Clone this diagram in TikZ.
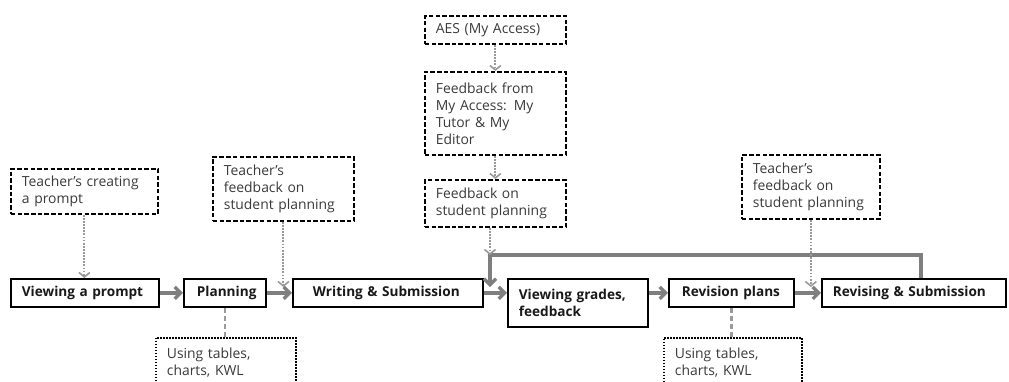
\documentclass[tikz,border=0pt]{standalone}
\usepackage{fontspec}
\setmainfont{Open Sans}
\usetikzlibrary{arrows.meta}
\definecolor{arrgray}{HTML}{7F7F7F}
\definecolor{lgray}{HTML}{9A9A9A}
\definecolor{txtgray}{HTML}{3A3A3A}
\tikzset{
  mainbox/.style={draw=black, line width=1.8pt, anchor=north west, inner ysep=0pt,
    align=left, font=\fontsize{13.6}{17}\selectfont\bfseries, text=black!90},
  dashbox/.style={draw=black, line width=1.8pt, dash pattern=on 4.5pt off 2.2pt, anchor=north west,
    inner ysep=0pt, inner xsep=11pt, align=left, font=\fontsize{13.9}{17}\selectfont, text=txtgray},
  dotbox/.style={draw=black, line width=1.8pt, dash pattern=on 1.5pt off 1.5pt, anchor=north west,
    inner ysep=0pt, inner xsep=11pt, align=left, font=\fontsize{13.9}{17}\selectfont, text=txtgray},
  flowarr/.style={draw=arrgray, line width=3.3pt, -{Straight Barb[length=6pt,width=12pt]}},
  dotarr/.style={draw=lgray, line width=2pt, dash pattern=on 1.8pt off 1.3pt,
    -{Straight Barb[length=4.5pt,width=11pt,line width=1.6pt]}},
  dashlink/.style={draw=lgray, line width=2.3pt, dash pattern=on 5pt off 3pt}
}
\begin{document}
\begin{tikzpicture}[x=1pt,y=-1pt]
\useasboundingbox (0,0) rectangle (1009,381);
\clip (0,0) rectangle (1009,381);
% main boxes
\node[mainbox, inner xsep=11pt, text width=126pt, minimum height=28pt] (vp) at (10,278) {Viewing~a~prompt};
\node[mainbox, inner xsep=13pt, text width=56pt, minimum height=28pt] (pl) at (183,278) {Planning};
\node[mainbox, inner xsep=20pt, text width=150pt, minimum height=28pt] (ws) at (292,278) {Writing~\&~Submission};
\node[mainbox, inner xsep=11pt, text width=118pt, minimum height=48pt] (vg) at (507,278) {Viewing~grades,\\feedback};
\node[mainbox, inner xsep=13pt, text width=99pt, minimum height=28pt] (rp) at (668,278) {Revision~plans};
\node[mainbox, inner xsep=11pt, text width=162pt, minimum height=28pt] (rs) at (821,278) {Revising~\&~Submission};
% dashed boxes
\node[dashbox, text width=125pt, minimum height=45pt] (tcp) at (10,168) {Teacher's creating\\a prompt};
\node[dashbox, text width=119pt, minimum height=64pt] (tf1) at (212,156) {Teacher's\\feedback on\\student planning};
\node[dashbox, text width=119pt, minimum height=28pt] (aes) at (424,15) {AES (My Access)};
\node[dashbox, text width=119pt, minimum height=83pt] (fma) at (424,71) {Feedback from\\My Access: My\\Tutor \& My\\Editor};
\node[dashbox, text width=119pt, minimum height=47pt] (fsp) at (424,179) {Feedback on\\student planning};
\node[dashbox, text width=116pt, minimum height=64pt] (tf2) at (741,154) {Teacher's\\feedback on\\student planning};
% dotted boxes
\node[dotbox, text width=118pt, minimum height=56pt, text depth=26pt] (ut1) at (155,337) {Using tables,\\charts, KWL};
\node[dotbox, text width=116pt, minimum height=56pt, text depth=26pt] (ut2) at (663,337) {Using tables,\\charts, KWL};
% loop coordinates
\coordinate (lc) at (490,255);
\coordinate (lt) at (490,287);
% flow arrows
\draw[flowarr] (vp) -- (pl);
\draw[flowarr] (pl) -- (ws);
\draw[flowarr] (ws.east) -- (ws.east -| vg.west);
\draw[flowarr] (vg.east |- rp.east) -- (rp.west);
\draw[flowarr] (rp) -- (rs);
\draw[flowarr] ([xshift=100pt]rs.north west) |- (lc) -- (lt);
% dotted arrows
\draw[dotarr] (tcp.south) -- (tcp.south |- vp.north);
\draw[dotarr] (tf1.south) -- (tf1.south |- lt);
\draw[dotarr] (aes.south) -- (fma.north);
\draw[dotarr] (fma.south) -- (fsp.north);
\draw[dotarr] (fsp.south -| lc) -- (lc);
\draw[dotarr] (tf2.south) -- (tf2.south |- lt);
% dashed links
\draw[dashlink] (pl.south) -- (pl.south |- ut1.north);
\draw[dashlink] (rp.south) -- (rp.south |- ut2.north);
\end{tikzpicture}
\end{document}
